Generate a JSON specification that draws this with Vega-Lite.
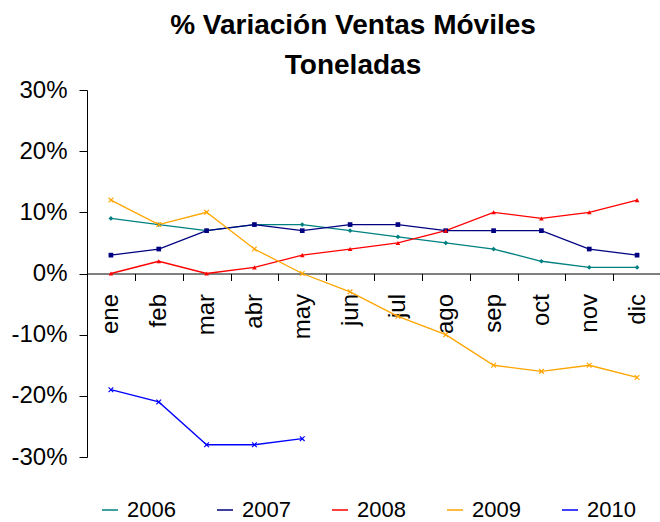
{
  "$schema": "https://vega.github.io/schema/vega-lite/v6.json",
  "width": 574,
  "height": 367,
  "autosize": "none",
  "padding": {"left": 87, "top": 90, "right": 0, "bottom": 65},
  "config": {
    "font": "Liberation Sans",
    "view": {"stroke": null},
    "axis": {"labelColor": "black", "domainColor": "black", "tickColor": "black", "grid": false, "title": null, "labelFont": "Liberation Sans"}
  },
  "title": {
    "text": ["% Variación Ventas Móviles", "Toneladas"],
    "fontSize": 28,
    "fontWeight": "bold",
    "color": "black",
    "lineHeight": 40,
    "offset": -2,
    "dx": -21
  },
  "data": {
    "values": [
      {"mes": "ene", "anio": "2006", "v": 9}, {"mes": "feb", "anio": "2006", "v": 8}, {"mes": "mar", "anio": "2006", "v": 7},
      {"mes": "abr", "anio": "2006", "v": 8}, {"mes": "may", "anio": "2006", "v": 8}, {"mes": "jun", "anio": "2006", "v": 7},
      {"mes": "jul", "anio": "2006", "v": 6}, {"mes": "ago", "anio": "2006", "v": 5}, {"mes": "sep", "anio": "2006", "v": 4},
      {"mes": "oct", "anio": "2006", "v": 2}, {"mes": "nov", "anio": "2006", "v": 1}, {"mes": "dic", "anio": "2006", "v": 1},
      {"mes": "ene", "anio": "2007", "v": 3}, {"mes": "feb", "anio": "2007", "v": 4}, {"mes": "mar", "anio": "2007", "v": 7},
      {"mes": "abr", "anio": "2007", "v": 8}, {"mes": "may", "anio": "2007", "v": 7}, {"mes": "jun", "anio": "2007", "v": 8},
      {"mes": "jul", "anio": "2007", "v": 8}, {"mes": "ago", "anio": "2007", "v": 7}, {"mes": "sep", "anio": "2007", "v": 7},
      {"mes": "oct", "anio": "2007", "v": 7}, {"mes": "nov", "anio": "2007", "v": 4}, {"mes": "dic", "anio": "2007", "v": 3},
      {"mes": "ene", "anio": "2008", "v": 0}, {"mes": "feb", "anio": "2008", "v": 2}, {"mes": "mar", "anio": "2008", "v": 0},
      {"mes": "abr", "anio": "2008", "v": 1}, {"mes": "may", "anio": "2008", "v": 3}, {"mes": "jun", "anio": "2008", "v": 4},
      {"mes": "jul", "anio": "2008", "v": 5}, {"mes": "ago", "anio": "2008", "v": 7}, {"mes": "sep", "anio": "2008", "v": 10},
      {"mes": "oct", "anio": "2008", "v": 9}, {"mes": "nov", "anio": "2008", "v": 10}, {"mes": "dic", "anio": "2008", "v": 12},
      {"mes": "ene", "anio": "2009", "v": 12}, {"mes": "feb", "anio": "2009", "v": 8}, {"mes": "mar", "anio": "2009", "v": 10},
      {"mes": "abr", "anio": "2009", "v": 4}, {"mes": "may", "anio": "2009", "v": 0}, {"mes": "jun", "anio": "2009", "v": -3},
      {"mes": "jul", "anio": "2009", "v": -7}, {"mes": "ago", "anio": "2009", "v": -10}, {"mes": "sep", "anio": "2009", "v": -15},
      {"mes": "oct", "anio": "2009", "v": -16}, {"mes": "nov", "anio": "2009", "v": -15}, {"mes": "dic", "anio": "2009", "v": -17},
      {"mes": "ene", "anio": "2010", "v": -19}, {"mes": "feb", "anio": "2010", "v": -21}, {"mes": "mar", "anio": "2010", "v": -28},
      {"mes": "abr", "anio": "2010", "v": -28}, {"mes": "may", "anio": "2010", "v": -27}
    ]
  },
  "encoding": {
    "x": {
      "field": "mes",
      "type": "ordinal",
      "sort": ["ene", "feb", "mar", "abr", "may", "jun", "jul", "ago", "sep", "oct", "nov", "dic"],
      "scale": {"type": "band", "paddingInner": 0, "paddingOuter": 0},
      "bandPosition": 0.5,
      "axis": {
        "orient": "bottom",
        "offset": -183.5,
        "labelAngle": -90,
        "labelFontSize": 24,
        "tickBand": "extent",
        "tickSize": 7,
        "labelPadding": 13,
        "domainWidth": 1
      }
    },
    "y": {
      "field": "v",
      "type": "quantitative",
      "scale": {"domain": [-30, 30], "nice": false},
      "axis": {
        "values": [-30, -20, -10, 0, 10, 20, 30],
        "labelExpr": "datum.value + '%'",
        "labelFontSize": 24,
        "tickSize": 8,
        "labelPadding": 12
      }
    }
  },
  "layer": [
    {
      "mark": {"type": "line", "strokeWidth": 1.3},
      "encoding": {
        "color": {
          "field": "anio",
          "type": "nominal",
          "scale": {"domain": ["2006", "2007", "2008", "2009", "2010"], "range": ["#008080", "#000080", "#FF0000", "#FFA500", "#0000FF"]},
          "legend": {
            "title": null,
            "orient": "none",
            "legendX": 12,
            "legendY": 409,
            "direction": "horizontal",
            "columns": 5,
            "symbolType": "stroke",
            "symbolSize": 256,
            "symbolStrokeWidth": 1.5,
            "labelFontSize": 22,
            "labelColor": "black",
            "labelOffset": 6,
            "columnPadding": 38
          }
        }
      }
    },
    {
      "mark": {"type": "point", "filled": true, "size": 22, "opacity": 1},
      "encoding": {
        "color": {
          "field": "anio",
          "type": "nominal",
          "scale": {"domain": ["2006", "2007", "2008", "2009", "2010"], "range": ["#008080", "#000080", "#FF0000", "#FFA500", "#0000FF"]},
          "legend": null
        },
        "shape": {
          "field": "anio",
          "type": "nominal",
          "scale": {"domain": ["2006", "2007", "2008", "2009", "2010"], "range": ["diamond", "square", "triangle-up", "M-1,-1L1,1M-1,1L1,-1", "M-1,-1L1,1M-1,1L1,-1"]},
          "legend": null
        }
      }
    },
    {
      "mark": {"type": "point", "filled": false, "size": 22, "strokeWidth": 1.2, "opacity": 1},
      "transform": [{"filter": "datum.anio == '2009' || datum.anio == '2010'"}],
      "encoding": {
        "color": {
          "field": "anio",
          "type": "nominal",
          "scale": {"domain": ["2006", "2007", "2008", "2009", "2010"], "range": ["#008080", "#000080", "#FF0000", "#FFA500", "#0000FF"]},
          "legend": null
        },
        "shape": {"value": "M-1,-1L1,1M-1,1L1,-1"}
      }
    }
  ],
  "resolve": {"legend": {"color": "independent", "shape": "independent"}}
}
